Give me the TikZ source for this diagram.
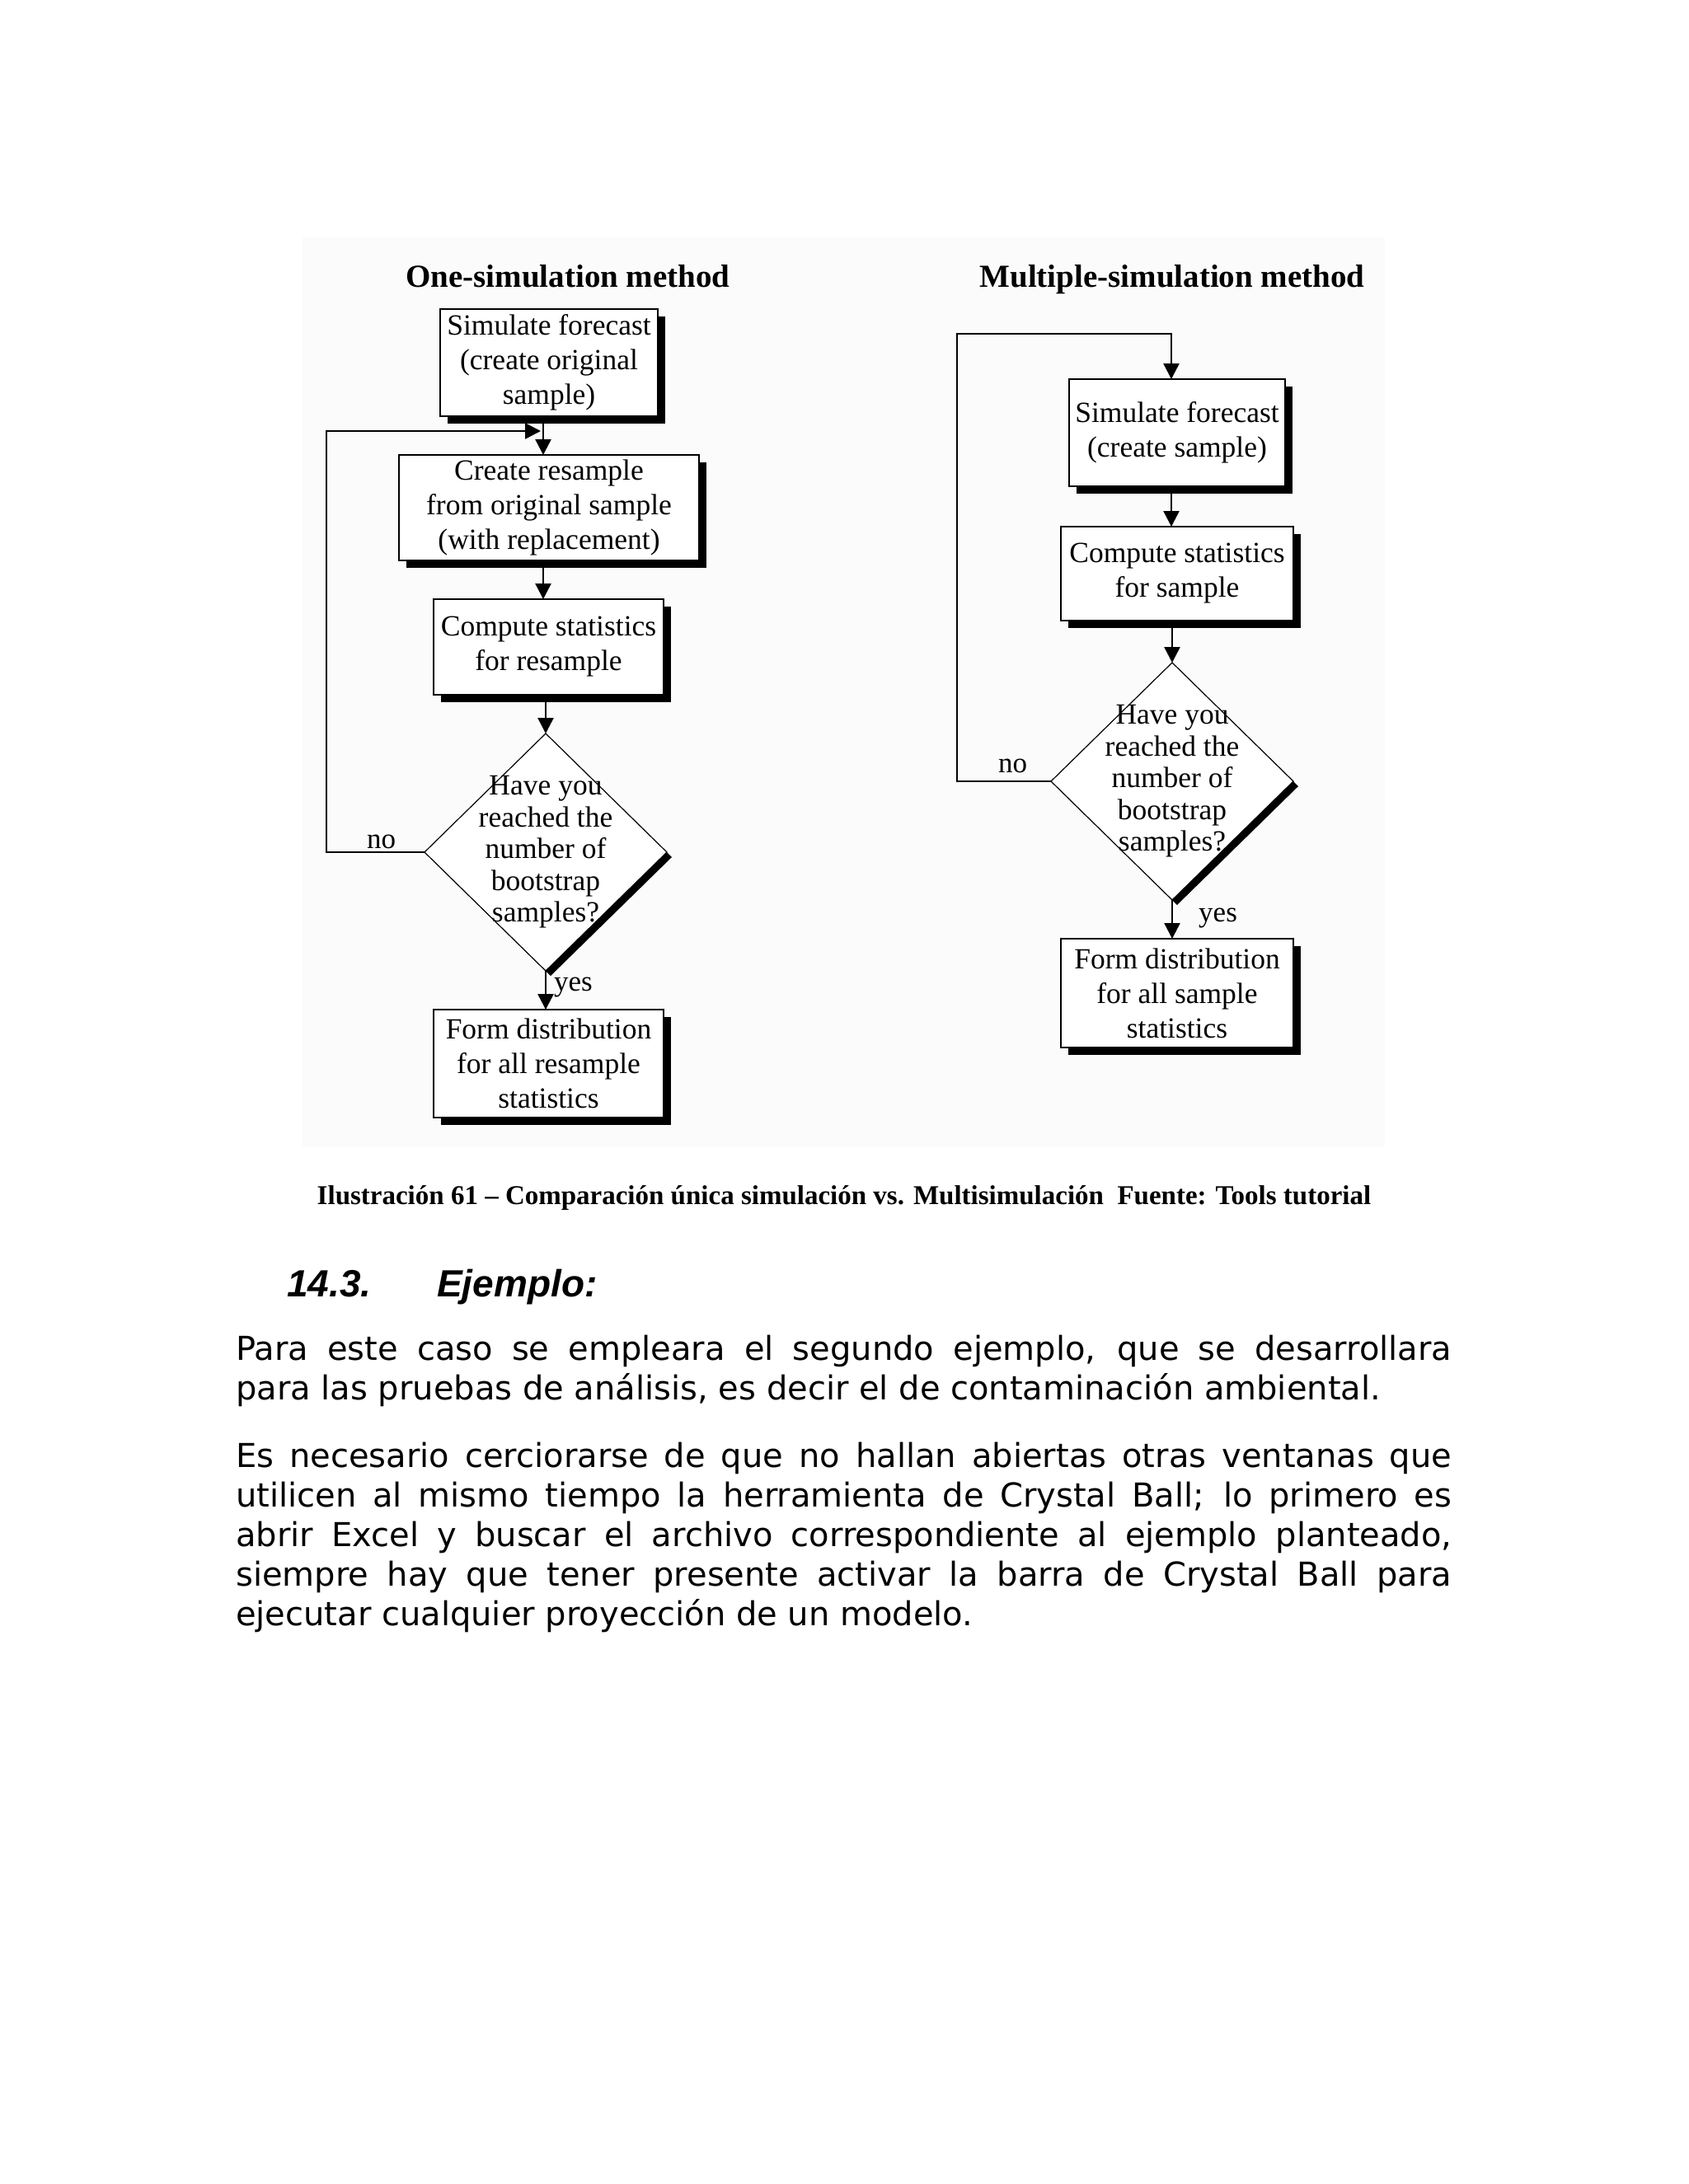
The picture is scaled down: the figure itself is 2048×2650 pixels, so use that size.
\documentclass[tikz,border=0pt]{standalone}
\usepackage{fontspec}
\setmainfont{Liberation Serif}
\newfontfamily\parafont{DejaVu Sans}
\newfontfamily\headfont{Liberation Sans}
\usetikzlibrary{arrows.meta,shapes.geometric,shadows,calc}
\definecolor{figbg}{RGB}{251,251,251}
\begin{document}
\begin{tikzpicture}[x=1pt,y=-1pt,
  boxshadow/.style={drop shadow={shadow xshift=9pt, shadow yshift=-9pt, opacity=1, fill=black}},
  box/.style={draw=black, line width=2.5pt, fill=white, align=center, inner sep=0pt, outer sep=0pt,
    font=\fontsize{35.5}{42}\selectfont, boxshadow},
  dia/.style={diamond, draw=black, line width=1.2pt, fill=white, minimum width=294pt, minimum height=288pt,
    inner sep=0pt, outer sep=0pt, drop shadow={shadow xshift=6pt, shadow yshift=-6pt, opacity=1, fill=black}},
  diatext/.style={align=center, inner sep=0pt, font=\fontsize{35.5}{38.5}\selectfont},
  ttl/.style={anchor=base, inner sep=0pt, font=\bfseries\fontsize{39}{45}\selectfont},
  lbl/.style={anchor=base west, inner sep=0pt, font=\fontsize{35}{40}\selectfont},
  arr/.style={line width=2.5pt, -{Triangle[width=19pt,length=19pt]}},
  loopline/.style={line width=2.5pt}
]
\useasboundingbox (0,0) rectangle (2048,2650);
\fill[white] (0,0) rectangle (2048,2650);
\fill[figbg] (367,288) rectangle (1680,1392);

% titles
\node[ttl] (tL) at (689,348) {One-simulation method};
\node[ttl] (tR) at (1422,348) {Multiple-simulation method};

% left column
\node[box, minimum width=264pt, minimum height=130pt] (b1) at (666,440) {Simulate forecast\\(create original\\sample)};
\node[box, minimum width=364pt, minimum height=128pt] (b2) at (666,616) {Create resample\\from original sample\\(with replacement)};
\node[box, minimum width=279pt, minimum height=116pt] (b3) at (665.5,785) {Compute statistics\\for resample};
\node[dia] (dL) at (662,1034) {};
\node[diatext] (dLt) at (dL.center) {Have you\\reached the\\number of\\bootstrap\\samples?};
\node[box, minimum width=279pt, minimum height=131pt] (b4) at (665.5,1290.5) {Form distribution\\for all resample\\statistics};

% right column
\node[box, minimum width=262pt, minimum height=130pt] (r1) at (1428,525) {Simulate forecast\\(create sample)};
\node[box, minimum width=282pt, minimum height=114pt] (r2) at (1428,696) {Compute statistics\\for sample};
\node[dia] (dR) at (1422,948) {};
\node[diatext] (dRt) at (dR.center) {Have you\\reached the\\number of\\bootstrap\\samples?};
\node[box, minimum width=282pt, minimum height=132pt] (r3) at (1428,1205) {Form distribution\\for all sample\\statistics};

% connectors left
\coordinate (colL) at (659,0);
\coordinate (loopL) at (396,523);
\draw[arr] (b1.south -| colL) -- (b2.north -| colL);
\draw[arr] (b2.south -| colL) -- (b3.north -| colL);
\draw[arr] (b3.south -| dL.north) -- (dL.north);
\draw[arr] (dL.south) -- (b4.north -| dL.south);
\draw[arr, shorten >=3pt] (dL.west) -- (dL.west -| loopL) -- (loopL) -- (loopL -| colL);

% connectors right
\coordinate (colR) at (1421,0);
\coordinate (loopR) at (1161,405);
\draw[arr] (dR.west) -- (dR.west -| loopR) -- (loopR) -- (loopR -| colR) -- (r1.north -| colR);
\draw[arr] (r1.south -| colR) -- (r2.north -| colR);
\draw[arr] (r2.south -| dR.north) -- (dR.north);
\draw[arr] (dR.south) -- (r3.north -| dR.south);

% labels
\node[lbl] (noL) at (445,1029) {no};
\node[lbl] (yesL) at (672,1202) {yes};
\node[lbl] (noR) at (1211,937) {no};
\node[lbl] (yesR) at (1454,1118) {yes};

% caption
\node[anchor=base, inner sep=0pt, font=\bfseries\fontsize{33}{38}\selectfont] (cap) at (1024,1461)
  {Ilustración 61 – Comparación única simulación vs. Multisimulación\ \ Fuente: Tools tutorial};

% heading
\node[anchor=base west, inner sep=0pt, font=\headfont\bfseries\itshape\fontsize{46}{52}\selectfont] (hnum) at (348,1573) {14.3.};
\node[anchor=base west, inner sep=0pt, font=\headfont\bfseries\itshape\fontsize{46}{52}\selectfont] (htxt) at (530,1573) {Ejemplo:};

% paragraphs
\node[anchor=base west, inner sep=0pt] (p1) at (286,1650) {\parbox[t]{1475pt}{\parafont\fontsize{40}{48.2}\selectfont
\hbox to 1475pt{Para este caso se empleara el segundo ejemplo, que se desarrollara}
\hbox{para las pruebas de análisis, es decir el de contaminación ambiental.}}};
\node[anchor=base west, inner sep=0pt] (p2) at (286,1780) {\parbox[t]{1475pt}{\parafont\fontsize{40}{48.2}\selectfont
\hbox to 1475pt{Es necesario cerciorarse de que no hallan abiertas otras ventanas que}
\hbox to 1475pt{utilicen al mismo tiempo la herramienta de Crystal Ball; lo primero es}
\hbox to 1475pt{abrir Excel y buscar el archivo correspondiente al ejemplo planteado,}
\hbox to 1475pt{siempre hay que tener presente activar la barra de Crystal Ball para}
\hbox{ejecutar cualquier proyección de un modelo.}}};
\end{tikzpicture}
\end{document}
